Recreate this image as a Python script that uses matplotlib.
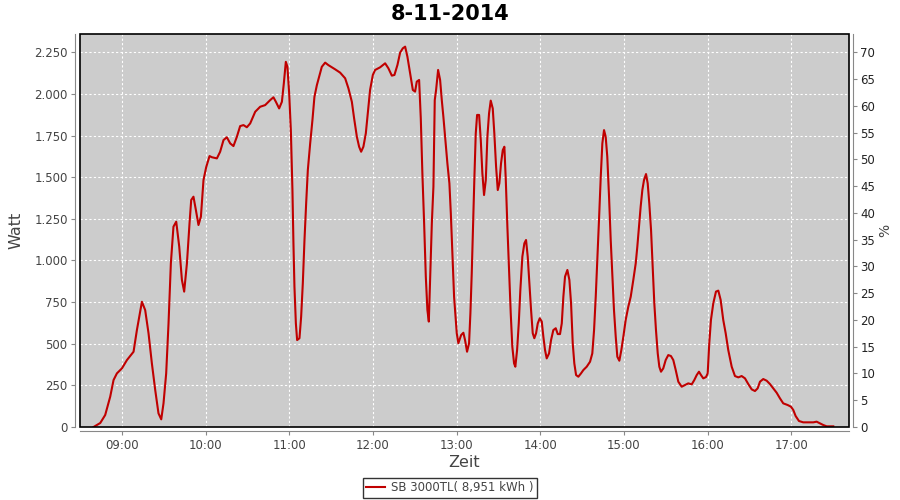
import matplotlib
matplotlib.use("Agg")
import matplotlib.pyplot as plt
from matplotlib.patches import Rectangle
from matplotlib.ticker import FuncFormatter

title = "8-11-2014"
series_name = "SB 3000TL( 8,951 kWh )"
x_label = "Zeit"
y_label = "Watt"
y2_label = "%"

hours = [8.661, 8.741, 8.800, 8.860, 8.900, 8.940, 9.000, 9.060, 9.139, 9.179,
         9.239, 9.278, 9.318, 9.358, 9.398, 9.437, 9.470, 9.497, 9.529, 9.557,
         9.585, 9.616, 9.649, 9.685, 9.717, 9.744, 9.777, 9.808, 9.828, 9.855,
         9.884, 9.915, 9.944, 9.975, 10.007, 10.047, 10.075, 10.135, 10.174, 10.214,
         10.254, 10.294, 10.333, 10.374, 10.413, 10.453, 10.493, 10.533, 10.593, 10.652,
         10.712, 10.772, 10.811, 10.840, 10.879, 10.912, 10.935, 10.959, 10.978, 10.999,
         11.019, 11.038, 11.050, 11.062, 11.079, 11.094, 11.122, 11.142, 11.162, 11.182,
         11.202, 11.222, 11.250, 11.277, 11.301, 11.330, 11.357, 11.389, 11.429, 11.468,
         11.548, 11.608, 11.668, 11.707, 11.748, 11.775, 11.808, 11.835, 11.859, 11.886,
         11.915, 11.939, 11.966, 11.999, 12.026, 12.086, 12.146, 12.185, 12.226, 12.257,
         12.293, 12.325, 12.357, 12.385, 12.412, 12.444, 12.477, 12.504, 12.524, 12.552,
         12.572, 12.591, 12.612, 12.632, 12.651, 12.668, 12.683, 12.704, 12.723, 12.739,
         12.755, 12.779, 12.803, 12.823, 12.842, 12.866, 12.890, 12.914, 12.931, 12.954,
         12.970, 13.002, 13.021, 13.054, 13.081, 13.101, 13.125, 13.149, 13.165, 13.181,
         13.197, 13.213, 13.229, 13.245, 13.269, 13.289, 13.308, 13.328, 13.349, 13.368,
         13.388, 13.408, 13.432, 13.451, 13.472, 13.492, 13.511, 13.531, 13.552, 13.571,
         13.588, 13.607, 13.627, 13.647, 13.666, 13.687, 13.702, 13.723, 13.743, 13.762,
         13.786, 13.810, 13.830, 13.850, 13.870, 13.890, 13.910, 13.929, 13.950, 13.970,
         13.994, 14.018, 14.037, 14.057, 14.077, 14.105, 14.129, 14.156, 14.185, 14.209,
         14.236, 14.257, 14.276, 14.296, 14.324, 14.348, 14.368, 14.388, 14.407, 14.428,
         14.455, 14.487, 14.515, 14.555, 14.595, 14.622, 14.643, 14.663, 14.682, 14.702,
         14.723, 14.742, 14.762, 14.782, 14.801, 14.822, 14.842, 14.861, 14.881, 14.902,
         14.921, 14.945, 14.969, 14.993, 15.021, 15.052, 15.081, 15.112, 15.141, 15.160,
         15.180, 15.200, 15.220, 15.240, 15.264, 15.284, 15.303, 15.324, 15.344, 15.363,
         15.383, 15.404, 15.423, 15.443, 15.470, 15.499, 15.530, 15.562, 15.590, 15.619,
         15.650, 15.690, 15.730, 15.769, 15.810, 15.841, 15.870, 15.897, 15.921, 15.948,
         15.981, 16.001, 16.020, 16.040, 16.068, 16.100, 16.128, 16.156, 16.187, 16.216,
         16.247, 16.288, 16.327, 16.367, 16.407, 16.447, 16.486, 16.527, 16.566, 16.598,
         16.626, 16.665, 16.706, 16.745, 16.785, 16.825, 16.865, 16.904, 16.957, 16.996,
         17.024, 17.052, 17.092, 17.143, 17.203, 17.263, 17.303, 17.343, 17.382, 17.423,
         17.502]

watts = [0, 24, 72, 182, 282, 322, 352, 402, 452, 582,
         752, 702, 563, 382, 222, 82, 46, 142, 322, 622,
         983, 1203, 1233, 1083, 883, 813, 983, 1223, 1363, 1383,
         1303, 1213, 1263, 1483, 1560, 1627, 1620, 1613, 1653, 1723,
         1740, 1703, 1687, 1743, 1807, 1813, 1800, 1823, 1893, 1923,
         1933, 1963, 1980, 1953, 1913, 1953, 2063, 2193, 2163, 2003,
         1783, 1423, 1103, 843, 622, 522, 533, 662, 863, 1123,
         1343, 1543, 1703, 1843, 1983, 2053, 2103, 2163, 2188, 2173,
         2148, 2128, 2094, 2034, 1953, 1854, 1743, 1683, 1653, 1683,
         1763, 1884, 2024, 2114, 2144, 2160, 2184, 2154, 2110, 2114,
         2174, 2248, 2274, 2284, 2224, 2124, 2024, 2014, 2074, 2084,
         1854, 1524, 1223, 903, 703, 633, 883, 1223, 1443, 1963,
         2024, 2144, 2084, 1963, 1863, 1723, 1583, 1463, 1283, 983,
         782, 563, 503, 552, 566, 522, 452, 503, 683, 923,
         1223, 1503, 1763, 1874, 1874, 1723, 1524, 1393, 1483, 1743,
         1884, 1960, 1913, 1763, 1563, 1423, 1463, 1583, 1663, 1683,
         1483, 1203, 943, 683, 482, 382, 362, 462, 622, 823,
         1023, 1103, 1123, 1023, 863, 703, 563, 533, 563, 622,
         653, 633, 542, 462, 412, 442, 522, 582, 593, 558,
         558, 622, 782, 903, 943, 883, 743, 503, 382, 312,
         302, 322, 342, 362, 392, 442, 582, 782, 1003, 1243,
         1503, 1703, 1783, 1743, 1623, 1383, 1123, 923, 703, 542,
         422, 398, 462, 542, 643, 722, 782, 883, 983, 1083,
         1203, 1323, 1423, 1483, 1519, 1463, 1343, 1183, 963, 743,
         582, 442, 362, 332, 352, 402, 432, 426, 402, 342,
         272, 242, 252, 262, 256, 282, 312, 332, 312, 292,
         300, 322, 503, 643, 743, 813, 819, 763, 643, 563,
         462, 362, 306, 298, 306, 292, 258, 226, 216, 232,
         272, 288, 278, 258, 232, 206, 172, 142, 132, 122,
         102, 66, 36, 28, 28, 28, 32, 22, 12, 4,
         4]

x_ticks = [9, 10, 11, 12, 13, 14, 15, 16, 17]
x_tick_labels = ["09:00", "10:00", "11:00", "12:00", "13:00", "14:00", "15:00", "16:00", "17:00"]
y_ticks = [0, 250, 500, 750, 1000, 1250, 1500, 1750, 2000, 2250]
y2_ticks = [0, 5, 10, 15, 20, 25, 30, 35, 40, 45, 50, 55, 60, 65, 70]

x_min, x_max = 8.493, 17.684
y_max = 2360
y2_max = y_max * 70 / 2250

text_col = "#444444"
axis_col = "#888888"
line_col = "#C00000"

fig = plt.figure(figsize=(9, 5), dpi=100)
ax = fig.add_axes([79.5 / 900, 73 / 500, 769 / 900, 393 / 500])
ax.set_facecolor("#CCCCCC")

ax.plot(hours, watts, color=line_col, lw=1.5, label=series_name, zorder=3)

ax.set_xlim(x_min, x_max)
ax.set_ylim(0, y_max)
ax.set_xticks(x_ticks)
ax.set_xticklabels(x_tick_labels)
ax.set_yticks(y_ticks)
ax.yaxis.set_major_formatter(FuncFormatter(lambda v, p: f"{int(v):,}".replace(",", ".")))
ax.grid(True, color="white", ls=(0, (2, 2)), lw=0.8)
ax.set_axisbelow(True)

for s in ["left", "bottom"]:
    ax.spines[s].set_position(("outward", 3))
    ax.spines[s].set_color(axis_col)
ax.spines["top"].set_visible(False)
ax.spines["right"].set_visible(False)
ax.tick_params(axis="both", colors=axis_col, labelcolor=text_col, labelsize=8.5,
               length=3, width=0.8, pad=2.5)

ax2 = ax.twinx()
ax2.set_ylim(0, y2_max)
ax2.set_yticks(y2_ticks)
ax2.spines["right"].set_position(("outward", 3))
ax2.spines["right"].set_color(axis_col)
for s in ["left", "top", "bottom"]:
    ax2.spines[s].set_visible(False)
ax2.tick_params(axis="y", colors=axis_col, labelcolor="#222222", labelsize=8.5,
                length=3, width=0.8, pad=2.5)
ax2.set_ylabel(y2_label, color=text_col, fontsize=10, labelpad=2)

ax.add_patch(Rectangle((0, 0), 1, 1, transform=ax.transAxes, fill=False,
                       ec="black", lw=1.2, clip_on=False, zorder=5))

ax.set_xlabel(x_label, color=text_col, fontsize=11.5, labelpad=2)
ax.set_ylabel(y_label, color=text_col, fontsize=11.5, labelpad=8)
fig.text(0.5, 1 - 14 / 500, title, ha="center", va="center",
         fontsize=15, fontweight="bold", color="black")

leg = fig.legend(loc="center", bbox_to_anchor=(0.5, 1 - 488 / 500), frameon=True,
                 fancybox=False, edgecolor="black", fontsize=8.5, handlelength=1.6,
                 handletextpad=0.5, borderpad=0.3, borderaxespad=0)
leg.get_frame().set_linewidth(1.0)
for t in leg.get_texts():
    t.set_color(text_col)

fig.savefig("out.png", dpi=100)
